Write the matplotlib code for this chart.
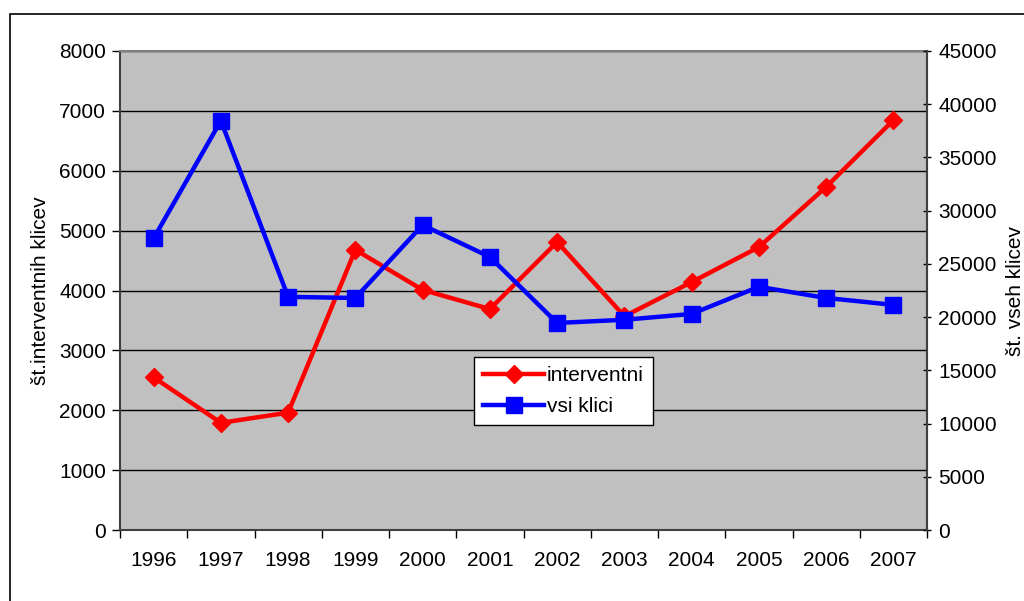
import matplotlib
matplotlib.use("Agg")
import matplotlib.pyplot as plt
from matplotlib.patches import Rectangle

years = ["1996", "1997", "1998", "1999", "2000", "2001", "2002", "2003", "2004", "2005", "2006", "2007"]
interventni = [2550, 1790, 1960, 4680, 4010, 3690, 4810, 3570, 4140, 4725, 5730, 6845]
vsi_klici = [27400, 38450, 21900, 21800, 28650, 25650, 19450, 19750, 20300, 22850, 21800, 21150]

plt.rcParams['font.family'] = ['Liberation Sans', 'DejaVu Sans']
FS = 15

fig = plt.figure(figsize=(10.24, 6.01), dpi=100)
W, H = 1024, 601
# outer chart frame
fig.patches.append(Rectangle((10 / W, -0.1), 1.2, (H - 14) / H + 0.1, transform=fig.transFigure,
                             fill=False, edgecolor='black', linewidth=1.2))

left, right, top, bottom = 120, 927, 51, 530
ax = fig.add_axes([left / W, 1 - bottom / H, (right - left) / W, (bottom - top) / H])
ax.set_facecolor('#C0C0C0')
x = list(range(len(years)))
ax.set_xlim(-0.5, len(years) - 0.5)
ax.set_ylim(0, 8000)
ax.set_yticks(range(0, 8001, 1000))
ax.yaxis.grid(True, color='black', linewidth=1)
ax.set_axisbelow(True)
ax.set_xticks([i - 0.5 for i in range(len(years) + 1)])
ax.set_xticklabels([])
ax.set_xticks(x, minor=True)
ax.set_xticklabels(years, minor=True)
ax.tick_params(axis='x', which='minor', length=0, pad=15, labelsize=FS)
ax.tick_params(axis='x', which='major', length=6, width=1, direction='out')
ax.tick_params(axis='y', length=6, width=1, direction='out', labelsize=FS, pad=4)
for s in ['top', 'right']:
    ax.spines[s].set_color('#808080')
    ax.spines[s].set_linewidth(1.5)
for s in ['left', 'bottom']:
    ax.spines[s].set_color('#404040')
    ax.spines[s].set_linewidth(1.5)
ax.set_ylabel('št.interventnih klicev', fontsize=FS, labelpad=7)

l1, = ax.plot(x, interventni, color='#FF0000', linewidth=3.2, marker='D', markersize=9,
              label='interventni', zorder=3)

ax2 = ax.twinx()
ax2.set_ylim(0, 45000)
ax2.set_yticks(range(0, 45001, 5000))
ax2.tick_params(axis='y', length=6, width=1, direction='inout', labelsize=FS, pad=5)
ax2.spines['right'].set_color('#404040')
ax2.spines['right'].set_linewidth(1.5)
ax2.spines['top'].set_visible(False)
ax2.spines['left'].set_visible(False)
ax2.spines['bottom'].set_visible(False)
l2, = ax2.plot(x, vsi_klici, color='#0000FF', linewidth=3.2, marker='s', markersize=11,
               label='vsi klici', zorder=3)
ax2.set_ylabel('št. vseh klicev', fontsize=FS, labelpad=7)

leg = ax2.legend(handles=[l1, l2], loc='upper left',
                 bbox_to_anchor=((474 - left) / (right - left), 1 - (357 - top) / (bottom - top)),
                 fontsize=FS, frameon=True, fancybox=False, edgecolor='black',
                 handlelength=2.9, handletextpad=0.15, borderpad=0.45, labelspacing=0.55,
                 borderaxespad=0)
leg.get_frame().set_linewidth(1)
leg.get_frame().set_facecolor('white')
leg.get_frame().set_alpha(1)

fig.savefig('out.png', dpi=100)
